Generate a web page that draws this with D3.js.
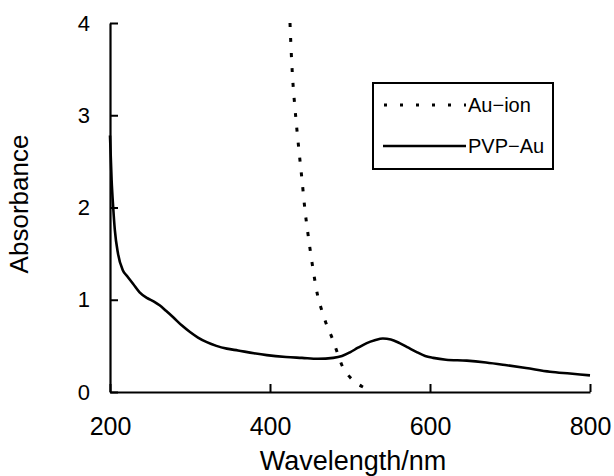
<!DOCTYPE html>
<html>
<head>
<meta charset="utf-8">
<script src="https://cdn.jsdelivr.net/npm/d3@7"></script>
<style>
  body { margin: 0; background: #fff; }
  svg { display: block; font-family: "Liberation Sans", Arial, sans-serif; }
</style>
</head>
<body>
<svg id="chart" width="614" height="476"></svg>
<script>
'use strict'
// spectra (wavelength nm, absorbance)
var pvpWave = [200, 202, 204, 206, 210, 216, 222, 229, 237, 246, 255, 262, 270, 279, 290, 300, 310, 321, 333, 346, 360, 380, 396, 420, 440, 460, 479, 490, 500, 510, 521, 531, 541, 551, 562, 573, 584, 594, 604, 620, 646, 670, 696, 720, 750, 775, 800];
var pvpAbs  = [2.78, 2.3, 2.0, 1.76, 1.5, 1.32, 1.25, 1.17, 1.08, 1.02, 0.98, 0.94, 0.88, 0.81, 0.72, 0.65, 0.59, 0.54, 0.5, 0.47, 0.45, 0.42, 0.40, 0.38, 0.37, 0.36, 0.37, 0.39, 0.43, 0.48, 0.53, 0.56, 0.58, 0.57, 0.53, 0.48, 0.43, 0.39, 0.37, 0.35, 0.34, 0.32, 0.29, 0.26, 0.22, 0.2, 0.18];

var ionWave = [425, 427, 429, 432, 434, 437, 440, 444, 448, 454, 460, 466, 472, 477, 484, 491, 498, 506, 515, 525];
var ionAbs  = [4.0, 3.6, 3.31, 3.0, 2.81, 2.55, 2.3, 1.95, 1.68, 1.32, 1.03, 0.85, 0.7, 0.6, 0.43, 0.27, 0.18, 0.11, 0.06, 0.02];

var xTicks = [200, 400, 600, 800];
var yTicks = [0, 1, 2, 3, 4];
var legendLabels = ["Au\u2212ion", "PVP\u2212Au"];

var svg = d3.select("#chart");

var x = d3.scaleLinear().domain([200, 800]).range([110, 590]);
var y = d3.scaleLinear().domain([0, 4]).range([392, 23]);

// x axis, ticks point inward
var gx = svg.append("g")
  .attr("transform", "translate(0," + y(0) + ")")
  .call(d3.axisBottom(x).tickValues(xTicks).tickFormat(d3.format("d"))
    .tickSize(-8).tickSizeOuter(0).tickPadding(25));
gx.select(".domain").attr("stroke", "#000").attr("stroke-width", 2.2);
gx.selectAll(".tick line").attr("stroke", "#000").attr("stroke-width", 2);
gx.selectAll(".tick text").attr("font-size", 25).attr("fill", "#000");

var gy = svg.append("g")
  .attr("transform", "translate(" + x(200) + ",0)")
  .call(d3.axisLeft(y).tickValues(yTicks).tickFormat(d3.format("d"))
    .tickSize(-8).tickSizeOuter(0).tickPadding(20));
gy.select(".domain").attr("stroke", "#000").attr("stroke-width", 2.2);
gy.selectAll(".tick line").attr("stroke", "#000").attr("stroke-width", 2);
gy.selectAll(".tick text").attr("font-size", 22).attr("fill", "#000");

// axis titles
svg.append("text")
  .attr("x", 353).attr("y", 470)
  .attr("text-anchor", "middle")
  .attr("font-size", 27)
  .text("Wavelength/nm");

svg.append("text")
  .attr("transform", "translate(28,204) rotate(-90)")
  .attr("text-anchor", "middle")
  .attr("font-size", 26)
  .text("Absorbance");

// curves
var line = d3.line()
  .x(function(d){ return x(d[0]); })
  .y(function(d){ return y(d[1]); })
  .curve(d3.curveMonotoneX);

var pvp = pvpWave.map(function(w, i){ return [w, pvpAbs[i]]; });
var ion = ionWave.map(function(w, i){ return [w, ionAbs[i]]; });

svg.append("path")
  .datum(pvp)
  .attr("d", line)
  .attr("fill", "none")
  .attr("stroke", "#000")
  .attr("stroke-width", 2.6);

var lineIon = d3.line()
  .x(function(d){ return x(d[0]); })
  .y(function(d){ return y(d[1]); })
  .curve(d3.curveCatmullRom);

svg.append("path")
  .datum(ion)
  .attr("d", lineIon)
  .attr("fill", "none")
  .attr("stroke", "#000")
  .attr("stroke-width", 3)
  .attr("stroke-dasharray", "4,11");

// legend
var lg = svg.append("g");
lg.append("rect")
  .attr("x", 373).attr("y", 83).attr("width", 180).attr("height", 86)
  .attr("fill", "#fff").attr("stroke", "#000").attr("stroke-width", 2);
lg.append("line")
  .attr("x1", 384).attr("x2", 466).attr("y1", 105).attr("y2", 105)
  .attr("stroke", "#000").attr("stroke-width", 3)
  .attr("stroke-dasharray", "3,13");
lg.append("line")
  .attr("x1", 383).attr("x2", 466).attr("y1", 146).attr("y2", 146)
  .attr("stroke", "#000").attr("stroke-width", 2.4);
lg.selectAll("text.lab")
  .data(legendLabels)
  .enter().append("text")
  .attr("class", "lab")
  .attr("x", 468)
  .attr("y", function(d, i){ return 105 + i * 41; })
  .attr("dy", "0.36em")
  .attr("font-size", 20)
  .text(function(d){ return d; });
</script>
</body>
</html>
